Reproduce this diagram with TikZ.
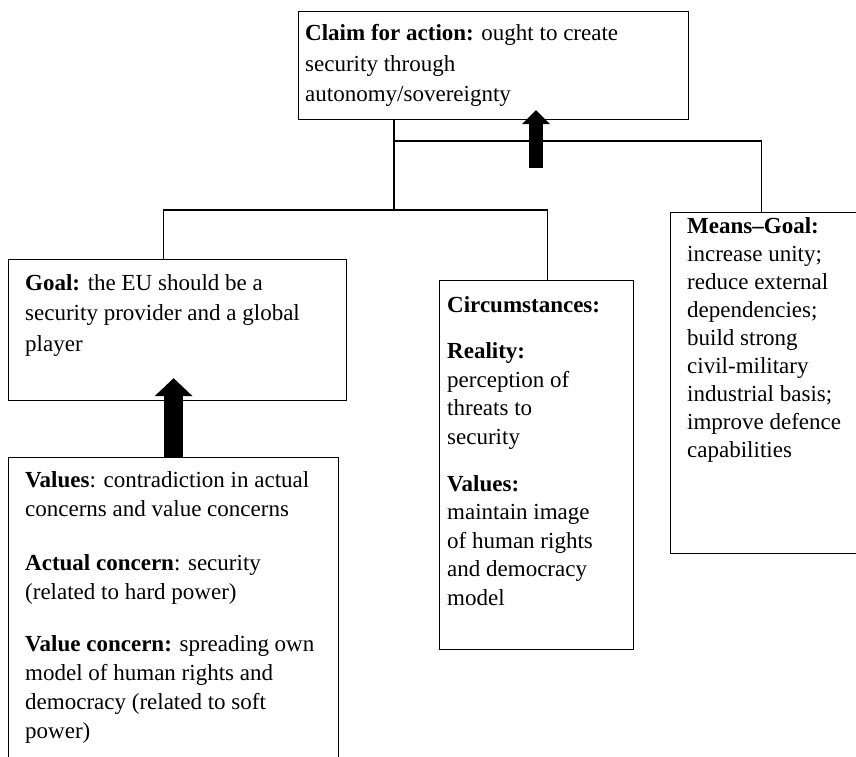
\documentclass[tikz,border=0pt]{standalone}
\usepackage{fontspec}
\setmainfont{Liberation Serif}
\usetikzlibrary{arrows.meta, calc}

\begin{document}
\begin{tikzpicture}[x=1pt, y=-1pt,
  box/.style={draw, line width=1.2pt, anchor=north west, inner sep=0pt},
  txt/.style={anchor=base west, align=left, inner sep=0pt, font=\fontsize{23}{28.5}\selectfont},
  link/.style={line width=1.2pt},
  fatarrow/.style={line width=19pt, -{Triangle[width=38pt, length=18pt, line width=0pt]}},
  slimarrow/.style={line width=14pt, -{Triangle[width=28pt, length=14pt, line width=0pt]}}]

\useasboundingbox (0,0) rectangle (856,757);
\clip (0,0) rectangle (856,757);

% boxes
\node[box, minimum width=390pt, minimum height=108pt] (claim) at (298,11) {};
\node[box, minimum width=338pt, minimum height=141pt] (goal) at (8,259) {};
\node[box, minimum width=330pt, minimum height=330pt] (values) at (8,457) {};
\node[box, minimum width=194pt, minimum height=369pt] (circ) at (439,280) {};
\node[box, minimum width=200pt, minimum height=341pt] (means) at (670,212) {};

% texts (placed by the baseline of their last line)
\node[txt, font=\fontsize{23}{30.5}\selectfont] (claimtext) at (305,102)
  {\textbf{Claim for action:} ought to create\\ security through\\ autonomy/sovereignty};
\node[txt, font=\fontsize{23}{30.5}\selectfont] (goaltext) at (25,351)
  {\textbf{Goal:} the EU should be a\\ security provider and a global\\ player};
\node[txt, font=\fontsize{23}{29}\selectfont] (valuestext) at (25,738)
  {\textbf{Values}: contradiction in actual\\ concerns and value concerns\\[25pt]
   \textbf{Actual concern}: security\\ (related to hard power)\\[23pt]
   \textbf{Value concern:} spreading own\\ model of human rights and\\
   democracy (related to soft\\ power)};
\node[txt] (circtext) at (447,605)
  {\textbf{Circumstances:}\\[18pt] \textbf{Reality:}\\ perception of\\ threats to\\ security\\[18.5pt]
   \textbf{Values:}\\ maintain image\\ of human rights\\ and democracy\\ model};
\node[txt, font=\fontsize{23}{28}\selectfont] (meanstext) at (687,457)
  {\textbf{Means--Goal:}\\ increase unity;\\ reduce external\\ dependencies;\\ build strong\\
   civil-military\\ industrial basis;\\ improve defence\\ capabilities};

% connectors
\coordinate (split) at (394,210);
\coordinate (fork) at (394,141);
\coordinate (lift) at (536,168);
\draw[link] (claim.south -| split) -- (split);
\draw[link] ([xshift=-14pt]goal.north) |- (split) -| ([xshift=11pt]circ.north);
\draw[link] (fork) -| ([xshift=-9pt]means.north);

\draw[fatarrow] (values.north) -- ($(values.north |- goal.south)+(0,-23)$);
\draw[slimarrow] (lift) -- ($(lift |- claim.south)+(0,-10)$);

\end{tikzpicture}
\end{document}
